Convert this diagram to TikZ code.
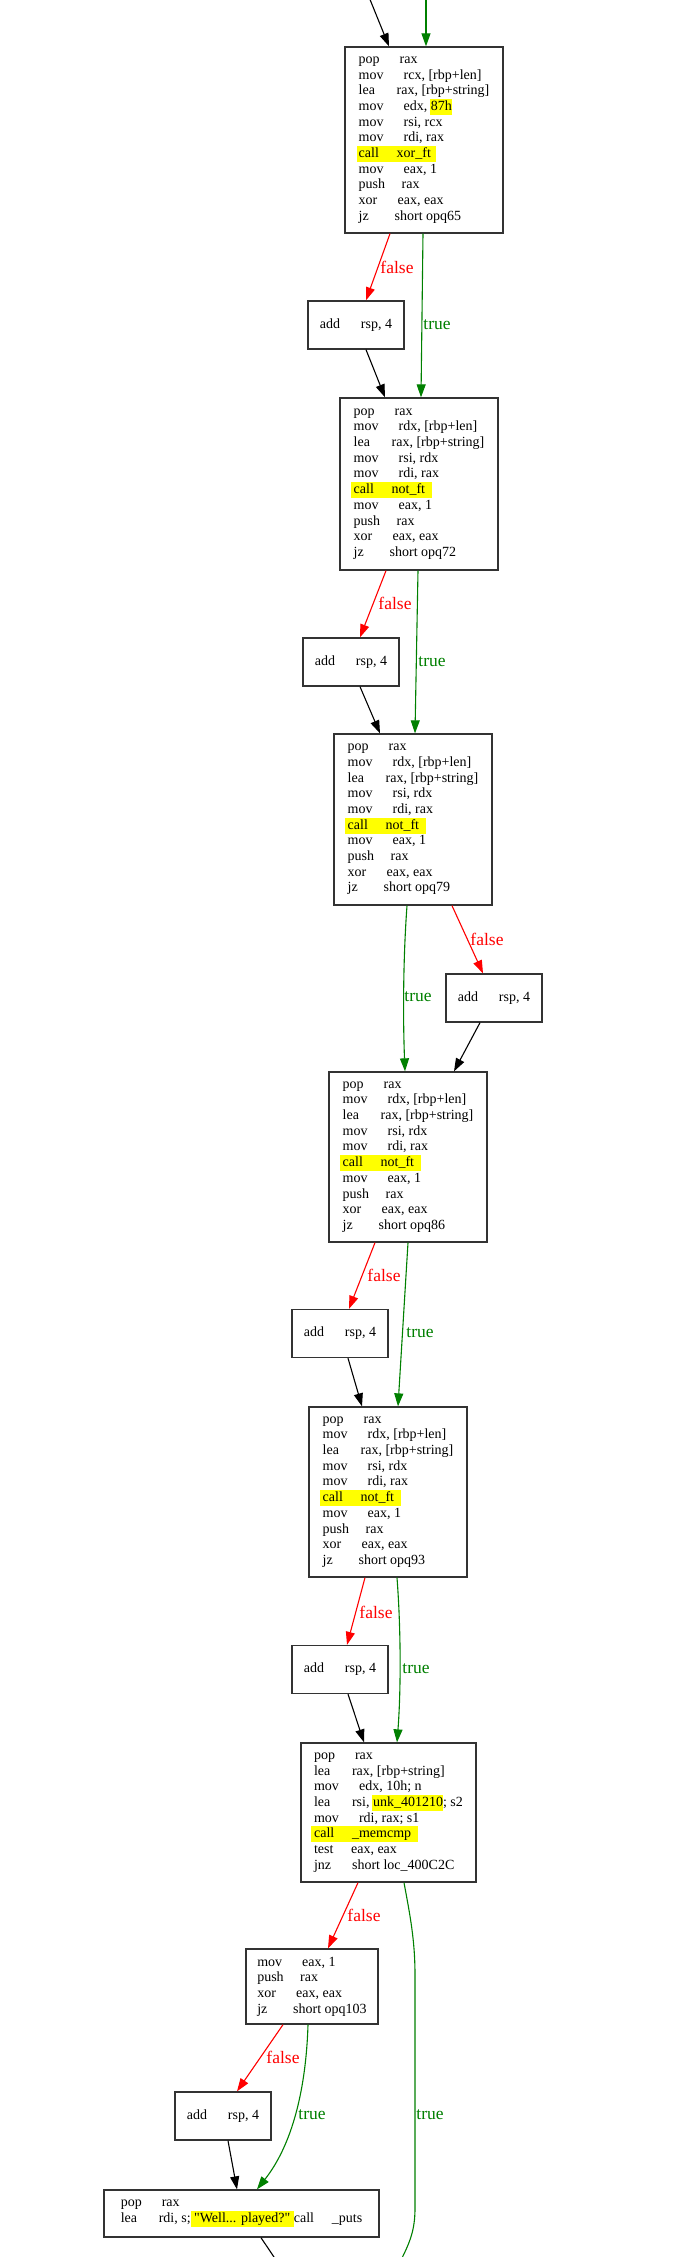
\documentclass[tikz,border=0pt]{standalone}
\usepackage{fontspec}
\setmainfont{Liberation Serif}[Ligatures=TeXOff]
\usetikzlibrary{arrows.meta,calc}
\definecolor{gvgreen}{RGB}{0,128,0}
\definecolor{gvred}{RGB}{255,0,0}
\definecolor{hlyellow}{RGB}{255,255,0}
\newcommand{\ins}[3]{\makebox[#1pt][l]{#2}#3}
\newcommand{\hlt}[3]{\hspace*{-#1pt}{\setlength{\fboxsep}{0pt}\colorbox{hlyellow}{\rule[-4.5pt]{0pt}{16pt}\hspace*{#1pt}#3\hspace*{#2pt}}}}
\tikzset{
  blk/.style={draw=black!80, line width=1.3pt, fill=white, inner xsep=0pt, inner ysep=0pt,
    align=left, font=\fontsize{14}{15.7}\selectfont, minimum width=158pt},
  addbox/.style={blk, minimum width=96pt, minimum height=48pt},
  edge/.style={line width=1.1pt, -{Triangle[length=13pt,width=9pt]}},
  fe/.style={edge, draw=gvred},
  te/.style={edge, draw=gvgreen},
  ke/.style={edge, draw=black},
  lbl/.style={font=\fontsize{17.5}{20}\selectfont, inner sep=0pt},
  fl/.style={lbl, text=gvred},
  tl/.style={lbl, text=gvgreen},
}
\begin{document}
\begin{tikzpicture}[x=1pt,y=-1pt]
\useasboundingbox[fill=white] (0,0) rectangle (680,2257);

% blocks
\node[blk, minimum height=186pt] (B1) at (424,140) {%
\ins{41}{pop}{rax}\\
\ins{45}{mov}{rcx, [rbp+len]}\\
\ins{38}{lea}{rax, [rbp+string]}\\
\ins{45}{mov}{edx, \hlt{1}{0}{87h}}\\
\ins{45}{mov}{rsi, rcx}\\
\ins{45}{mov}{rdi, rax}\\
\hlt{2}{5}{\ins{38}{call}{xor\_ft}}\\
\ins{45}{mov}{eax, 1}\\
\ins{43}{push}{rax}\\
\ins{39}{xor}{eax, eax}\\
\ins{36}{jz}{short opq65}};

\node[addbox] (A1) at (356,325) {\ins{41}{add}{rsp, 4}};

\node[blk, minimum height=172pt] (B2) at (419,484) {%
\ins{41}{pop}{rax}\\
\ins{45}{mov}{rdx, [rbp+len]}\\
\ins{38}{lea}{rax, [rbp+string]}\\
\ins{45}{mov}{rsi, rdx}\\
\ins{45}{mov}{rdi, rax}\\
\hlt{3}{7}{\ins{38}{call}{not\_ft}}\\
\ins{45}{mov}{eax, 1}\\
\ins{43}{push}{rax}\\
\ins{39}{xor}{eax, eax}\\
\ins{36}{jz}{short opq72}};

\node[addbox] (A2) at (351,662) {\ins{41}{add}{rsp, 4}};

\node[blk, minimum height=171pt] (B3) at (413,819.5) {%
\ins{41}{pop}{rax}\\
\ins{45}{mov}{rdx, [rbp+len]}\\
\ins{38}{lea}{rax, [rbp+string]}\\
\ins{45}{mov}{rsi, rdx}\\
\ins{45}{mov}{rdi, rax}\\
\hlt{3}{7}{\ins{38}{call}{not\_ft}}\\
\ins{45}{mov}{eax, 1}\\
\ins{43}{push}{rax}\\
\ins{39}{xor}{eax, eax}\\
\ins{36}{jz}{short opq79}};

\node[addbox] (A3) at (494,998) {\ins{41}{add}{rsp, 4}};

\node[blk, minimum height=170pt] (B4) at (408,1157) {%
\ins{41}{pop}{rax}\\
\ins{45}{mov}{rdx, [rbp+len]}\\
\ins{38}{lea}{rax, [rbp+string]}\\
\ins{45}{mov}{rsi, rdx}\\
\ins{45}{mov}{rdi, rax}\\
\hlt{3}{7}{\ins{38}{call}{not\_ft}}\\
\ins{45}{mov}{eax, 1}\\
\ins{43}{push}{rax}\\
\ins{39}{xor}{eax, eax}\\
\ins{36}{jz}{short opq86}};

\node[addbox] (A4) at (340,1333.5) {\ins{41}{add}{rsp, 4}};

\node[blk, minimum height=170pt] (B5) at (388,1492) {%
\ins{41}{pop}{rax}\\
\ins{45}{mov}{rdx, [rbp+len]}\\
\ins{38}{lea}{rax, [rbp+string]}\\
\ins{45}{mov}{rsi, rdx}\\
\ins{45}{mov}{rdi, rax}\\
\hlt{3}{7}{\ins{38}{call}{not\_ft}}\\
\ins{45}{mov}{eax, 1}\\
\ins{43}{push}{rax}\\
\ins{39}{xor}{eax, eax}\\
\ins{36}{jz}{short opq93}};

\node[addbox] (A5) at (340,1669.5) {\ins{41}{add}{rsp, 4}};

\node[blk, minimum width=175pt, minimum height=139pt] (B6) at (388.5,1812.5) {%
\ins{41}{pop}{rax}\\
\ins{38}{lea}{rax, [rbp+string]}\\
\ins{45}{mov}{edx, 10h; n}\\
\ins{38}{lea}{rsi, \hlt{1}{0}{unk\_401210}; s2}\\
\ins{45}{mov}{rdi, rax; s1}\\
\hlt{3}{7}{\ins{38}{call}{\_memcmp}}\\
\ins{37}{test}{eax, eax}\\
\ins{38}{jnz}{short loc\_400C2C}};

\node[blk, minimum width=132pt, minimum height=75pt] (B7) at (312,1986.5) {%
\ins{45}{mov}{eax, 1}\\
\ins{43}{push}{rax}\\
\ins{39}{xor}{eax, eax}\\
\ins{36}{jz}{short opq103}};

\node[addbox] (A6) at (223,2116) {\ins{41}{add}{rsp, 4}};

\node[blk, minimum width=275pt, minimum height=47pt] (B8) at (241.5,2213.5) {%
\ins{41}{pop}{rax}\\
\ins{38}{lea}{rdi, s;\hlt{0}{0}{\ "Well... played?"\ }\ins{38}{call}{\_puts}}};

% free ends
\coordinate (inK) at (369,-3);
\coordinate (inG) at (426,-3);
\coordinate (outG) at (401,2260);
\coordinate (outK) at (276,2260);

% edges
\draw[ke] (inK) -- ([xshift=-35pt]B1.north);
\draw[te] (inG) -- ([xshift=2pt]B1.north);

\draw[fe] ([xshift=-34pt]B1.south) -- ([xshift=10pt]A1.north);
\draw[te] ([xshift=-1pt]B1.south) -- ([xshift=2pt]B2.north);
\draw[ke] ([xshift=10pt]A1.south) -- ([xshift=-34pt]B2.north);

\draw[fe] ([xshift=-33pt]B2.south) -- ([xshift=9pt]A2.north);
\draw[te] ([xshift=-1pt]B2.south) -- ([xshift=2pt]B3.north);
\draw[ke] ([xshift=9pt]A2.south) -- ([xshift=-33pt]B3.north);

\draw[te] ([xshift=-6pt]B3.south) .. controls (403,960) and (403,1020) .. ([xshift=-3pt]B4.north);
\draw[fe] ([xshift=39pt]B3.south) -- ([xshift=-11pt]A3.north);
\draw[ke] ([xshift=-14pt]A3.south) -- ([xshift=46pt]B4.north);

\draw[fe] ([xshift=-33pt]B4.south) -- ([xshift=9pt]A4.north);
\draw[te] (B4.south) -- ([xshift=10pt]B5.north);
\draw[ke] ([xshift=8pt]A4.south) -- ([xshift=-26pt]B5.north);

\draw[fe] ([xshift=-23pt]B5.south) -- ([xshift=7pt]A5.north);
\draw[te] ([xshift=9pt]B5.south) .. controls (401,1630) and (401,1690) .. ([xshift=8.5pt]B6.north);
\draw[ke] ([xshift=8pt]A5.south) -- ([xshift=-24.5pt]B6.north);

\draw[fe] ([xshift=-30.5pt]B6.south) -- ([xshift=16pt]B7.north);
\draw[gvgreen, line width=1.1pt] ([xshift=15.5pt]B6.south) .. controls (410,1915) and (415,1940) .. (415,1975)
   -- (415,2208) .. controls (415,2230) and (410,2242) .. (outG);

\draw[fe] ([xshift=-29pt]B7.south) -- ([xshift=14pt]A6.north);
\draw[te] ([xshift=-4pt]B7.south) .. controls (306,2090) and (292,2145) .. ([xshift=15.5pt]B8.north);
\draw[ke] ([xshift=5pt]A6.south) -- ([xshift=-4.5pt]B8.north);

\draw[black, line width=1.1pt] ([xshift=19.5pt]B8.south) -- (outK);

% labels
\node[fl] (L1) at (397,267) {false};
\node[tl] (L2) at (437,325) {true};
\node[fl] (L3) at (395,603) {false};
\node[tl] (L4) at (432,662) {true};
\node[tl] (L5) at (418,997) {true};
\node[fl] (L6) at (487,939) {false};
\node[fl] (L7) at (384,1275) {false};
\node[tl] (L8) at (420,1333) {true};
\node[fl] (L9) at (376,1612) {false};
\node[tl] (L10) at (416,1669) {true};
\node[fl] (L11) at (364,1915) {false};
\node[tl] (L12) at (430,2115) {true};
\node[fl] (L13) at (283,2057) {false};
\node[tl] (L14) at (312,2115) {true};
\end{tikzpicture}
\end{document}
